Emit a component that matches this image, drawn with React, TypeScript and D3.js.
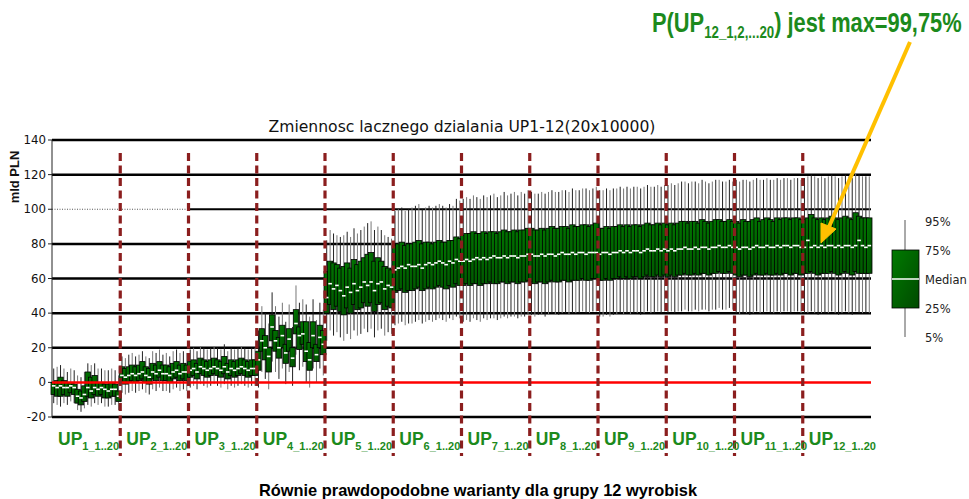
import React from "react";
import * as d3 from "d3";

const groupLabels = ["1", "2", "3", "4", "5", "6", "7", "8", "9", "10", "11", "12"];
const yTicks = [-20, 0, 20, 40, 60, 80, 100, 120, 140];
const legendLabels = ["95%", "75%", "Median", "25%", "5%"];

const p50: number[][] = [
  [-2, -3, -2, -3, -3, -2, -3, -8, -9, -7, -3, -5, -3, -4, -3, -4, -5, -4, -4, -8],
  [4, 3, 4, 5, 4, 5, 6, 4, 3, 6, 5, 7, 5, 5, 4, 6, 7, 5, 6, 6],
  [7, 8, 6, 9, 8, 7, 8, 9, 8, 7, 9, 6, 8, 7, 8, 9, 8, 7, 8, 8],
  [13, 24, 20, 15, 32, 24, 20, 27, 17, 25, 14, 34, 27, 28, 18, 13, 27, 16, 26, 22],
  [49, 57, 54, 56, 53, 50, 55, 52, 57, 53, 55, 58, 56, 58, 53, 57, 58, 54, 56, 55],
  [65, 66, 67, 66, 68, 67, 67, 68, 66, 68, 69, 68, 69, 70, 69, 68, 70, 69, 71, 70],
  [70, 71, 70, 71, 72, 71, 72, 71, 72, 73, 72, 72, 73, 72, 73, 73, 72, 73, 73, 74],
  [74, 73, 73, 74, 73, 74, 74, 73, 74, 75, 74, 74, 75, 74, 75, 75, 74, 75, 75, 75],
  [74, 75, 75, 74, 75, 75, 76, 75, 76, 75, 76, 76, 75, 76, 77, 76, 76, 77, 76, 77],
  [76, 77, 76, 77, 77, 78, 77, 77, 78, 77, 78, 78, 77, 78, 78, 79, 78, 78, 79, 78],
  [78, 77, 78, 78, 77, 78, 79, 78, 78, 79, 78, 78, 79, 78, 79, 79, 78, 79, 79, 78],
  [78, 82, 78, 79, 78, 79, 78, 79, 79, 78, 79, 78, 79, 79, 78, 79, 82, 79, 78, 79],
];
const p75: number[][] = [
  [0, 1, 3, 1, 0, 0, -1, -4, -5, -2, 6, 3, 4, 0, 0, -1, -1, 0, -1, -5],
  [9, 8, 9, 10, 9, 10, 12, 9, 8, 11, 10, 12, 10, 10, 9, 11, 12, 10, 11, 10],
  [12, 13, 11, 14, 13, 12, 13, 14, 13, 12, 15, 11, 13, 12, 13, 14, 13, 12, 13, 13],
  [18, 31, 27, 20, 39, 30, 26, 33, 22, 31, 20, 42, 32, 35, 35, 23, 35, 22, 33, 30],
  [64, 70, 69, 68, 66, 67, 69, 66, 71, 68, 70, 72, 74, 75, 70, 72, 70, 67, 66, 65],
  [79, 80, 81, 79, 80, 80, 81, 82, 80, 81, 81, 80, 81, 82, 81, 81, 82, 82, 84, 83],
  [85, 86, 86, 87, 86, 86, 87, 86, 87, 87, 86, 87, 88, 87, 87, 88, 87, 88, 88, 89],
  [89, 88, 88, 89, 88, 89, 90, 89, 89, 90, 90, 89, 91, 90, 90, 91, 91, 90, 91, 92],
  [89, 89, 90, 89, 90, 90, 91, 90, 91, 90, 91, 91, 90, 91, 92, 91, 91, 92, 91, 92],
  [91, 92, 91, 92, 93, 93, 92, 93, 93, 92, 94, 93, 92, 93, 94, 94, 93, 93, 94, 93],
  [93, 92, 94, 93, 93, 94, 95, 93, 94, 95, 94, 93, 95, 94, 95, 95, 94, 95, 95, 94],
  [94, 95, 97, 95, 94, 95, 94, 95, 96, 95, 94, 95, 96, 95, 94, 98, 96, 95, 95, 95],
];
const p25: number[][] = [
  [-7, -8, -8, -7, -8, -6, -7, -12, -13, -11, -8, -9, -7, -8, -7, -9, -9, -8, -8, -11],
  [0, -1, 0, 1, 0, 1, 2, 0, -1, 2, 1, 3, 1, 1, 0, 2, 3, 1, 2, 1],
  [3, 4, 2, 5, 4, 3, 4, 5, 4, 3, 5, 2, 4, 3, 4, 5, 4, 3, 4, 4],
  [7, 18, 13, 6, 24, 18, 14, 20, 11, 18, 9, 28, 19, 22, 12, 7, 20, 12, 20, 16],
  [40, 45, 42, 44, 41, 39, 43, 40, 45, 42, 43, 46, 44, 46, 41, 45, 46, 42, 44, 43],
  [52, 53, 54, 52, 53, 53, 54, 55, 53, 54, 55, 54, 55, 56, 55, 54, 56, 55, 57, 56],
  [56, 57, 56, 57, 57, 56, 57, 57, 58, 57, 57, 58, 58, 57, 58, 58, 57, 58, 58, 59],
  [58, 57, 58, 58, 57, 58, 59, 58, 58, 59, 59, 58, 59, 59, 59, 60, 59, 59, 60, 60],
  [59, 59, 60, 59, 60, 60, 61, 60, 61, 60, 61, 61, 60, 61, 62, 61, 61, 62, 61, 62],
  [61, 62, 61, 62, 62, 63, 62, 62, 63, 62, 63, 63, 62, 63, 63, 64, 63, 63, 64, 63],
  [62, 61, 62, 62, 61, 62, 63, 62, 62, 63, 62, 62, 63, 62, 63, 63, 62, 63, 63, 62],
  [63, 63, 64, 63, 62, 63, 63, 63, 64, 63, 62, 63, 64, 63, 62, 64, 63, 63, 63, 63],
];
const p95: number[][] = [
  [8, 9, 10, 8, 6, 8, 7, 4, 3, 6, 11, 10, 11, 8, 8, 7, 7, 8, 7, 4],
  [15, 14, 16, 17, 15, 16, 18, 15, 14, 18, 17, 19, 16, 17, 15, 18, 19, 17, 18, 17],
  [19, 20, 18, 21, 20, 19, 20, 21, 20, 19, 22, 18, 20, 19, 20, 21, 20, 19, 20, 20],
  [30, 44, 40, 34, 52, 44, 38, 46, 35, 45, 32, 56, 46, 48, 45, 38, 48, 36, 46, 42],
  [82, 88, 86, 85, 84, 85, 87, 84, 89, 86, 88, 90, 92, 93, 88, 90, 88, 85, 84, 83],
  [99, 100, 101, 99, 100, 101, 102, 103, 100, 101, 102, 101, 102, 103, 102, 101, 103, 102, 106, 105],
  [106, 107, 106, 108, 107, 106, 108, 107, 108, 109, 107, 108, 110, 108, 109, 110, 108, 110, 109, 111],
  [110, 109, 109, 110, 109, 110, 111, 110, 110, 111, 111, 110, 112, 111, 111, 112, 112, 111, 112, 113],
  [111, 111, 112, 111, 112, 112, 113, 112, 113, 112, 113, 113, 112, 113, 114, 113, 113, 114, 113, 114],
  [114, 115, 114, 115, 116, 116, 115, 116, 116, 115, 117, 116, 115, 116, 117, 117, 116, 116, 117, 116],
  [117, 116, 117, 117, 116, 117, 118, 117, 117, 118, 117, 117, 118, 117, 118, 118, 117, 118, 118, 117],
  [118, 119, 120, 119, 118, 119, 118, 119, 120, 119, 118, 119, 120, 119, 118, 121, 120, 119, 119, 119],
];
const p05: number[][] = [
  [-12, -13, -14, -12, -13, -11, -12, -16, -17, -15, -13, -14, -12, -13, -12, -14, -14, -13, -13, -16],
  [-6, -7, -6, -5, -6, -5, -4, -6, -7, -4, -5, -3, -5, -5, -6, -4, -3, -5, -4, -5],
  [-3, -2, -4, -1, -2, -3, -2, -1, -2, -3, -1, -4, -2, -3, -2, -1, -2, -3, -2, -2],
  [-3, 6, 2, -4, 12, 6, 2, 8, -1, 6, -2, 16, 7, 9, 0, -3, 8, 0, 8, 4],
  [24, 30, 27, 29, 26, 24, 28, 25, 30, 27, 28, 31, 29, 31, 26, 30, 31, 27, 29, 28],
  [33, 34, 35, 33, 34, 34, 35, 36, 34, 35, 36, 35, 36, 37, 36, 35, 37, 36, 38, 37],
  [35, 36, 35, 37, 36, 35, 37, 36, 37, 37, 36, 37, 38, 37, 38, 38, 37, 38, 38, 39],
  [39, 38, 39, 39, 38, 39, 40, 39, 39, 40, 40, 39, 40, 40, 40, 41, 40, 40, 41, 41],
  [38, 38, 39, 38, 39, 39, 40, 39, 40, 39, 40, 40, 39, 40, 41, 40, 40, 41, 40, 41],
  [40, 41, 40, 41, 41, 42, 41, 41, 42, 41, 42, 42, 41, 42, 42, 43, 42, 42, 43, 42],
  [40, 39, 40, 40, 39, 40, 41, 40, 40, 41, 40, 40, 41, 40, 41, 41, 40, 41, 41, 40],
  [40, 40, 41, 40, 39, 40, 40, 40, 41, 40, 39, 40, 41, 40, 39, 41, 40, 40, 40, 40],
];

const W = 969;
const H = 499;
const PL = 52;
const PR = 871;
const PT = 140;
const PB = 417;
const GREEN = "#1c8a1c";
const SEP = "#8b1e1e";

export default function App() {
  const boxes = groupLabels.flatMap((g, gi) =>
    p50[gi].map((m, k) => ({
      key: `${gi}-${k}`,
      idx: gi * 20 + k,
      lo: p05[gi][k],
      q1: p25[gi][k],
      med: m,
      q3: p75[gi][k],
      hi: p95[gi][k],
    }))
  );
  const x = d3.scaleBand<number>().domain(d3.range(boxes.length)).range([PL, PR]).padding(0);
  const gx = d3.scaleBand<string>().domain(groupLabels).range([PL, PR]).padding(0);
  const y = d3.scaleLinear().domain([-20, 140]).range([PB, PT]);
  const bw = 5.4;

  return (
    <svg width={W} height={H} style={{ position: "absolute", left: 0, top: 0, background: "#fff" }}>
      <defs>
        <linearGradient id="bx" x1="0" y1="0" x2="1" y2="1">
          <stop offset="0" stopColor="#007a00" />
          <stop offset="1" stopColor="#004a00" />
        </linearGradient>
      </defs>
      <text x={462} y={132} textAnchor="middle" fontFamily="DejaVu Sans, Verdana, sans-serif" fontSize={15.6} fill="#111">
        Zmiennosc lacznego dzialania UP1-12(20x10000)
      </text>
      {yTicks.map((t) =>
        t === 0 ? null : t === 100 ? (
          <g key={t}>
            <line x1={PL} x2={gx("3")!} y1={y(t)} y2={y(t)} stroke="#555" strokeWidth={1} strokeDasharray="1,1.5" />
            <line x1={gx("3")!} x2={PR} y1={y(t)} y2={y(t)} stroke="#000" strokeWidth={2} />
          </g>
        ) : (
          <line key={t} x1={PL} x2={PR} y1={y(t)} y2={y(t)} stroke="#000" strokeWidth={2.5} />
        )
      )}
      <line x1={PL} x2={PL} y1={PT} y2={PB} stroke="#222" strokeWidth={1} />
      {yTicks.map((t) => (
        <g key={"t" + t}>
          <line x1={PL - 4} x2={PL} y1={y(t)} y2={y(t)} stroke="#222" />
          <text x={PL - 6} y={y(t) + 4} textAnchor="end" fontFamily="DejaVu Sans, Verdana, sans-serif" fontSize={11.8} fill="#111">
            {t}
          </text>
        </g>
      ))}
      <text transform={`translate(19,177) rotate(-90)`} textAnchor="middle" fontFamily="Liberation Sans, Arial, sans-serif" fontWeight="bold" fontSize={13} fill="#111">
        mld PLN
      </text>
      {boxes.map((b) => {
        const cx = x(b.idx)! + x.bandwidth() / 2;
        return (
          <line key={"w" + b.key} x1={cx} x2={cx} y1={y(b.hi)} y2={y(b.lo)} stroke={b.idx % 2 ? "#777" : "#222"} strokeWidth={1} />
        );
      })}
      {boxes.map((b) => {
        const cx = x(b.idx)! + x.bandwidth() / 2;
        return (
          <rect key={"b" + b.key} x={cx - bw / 2} y={y(b.q3)} width={bw} height={y(b.q1) - y(b.q3)} fill="url(#bx)" stroke="#000" strokeWidth={0.8} />
        );
      })}
      {boxes.map((b) => {
        const cx = x(b.idx)! + x.bandwidth() / 2;
        return <line key={"m" + b.key} x1={cx - 1.8} x2={cx + 1.8} y1={y(b.med)} y2={y(b.med)} stroke="#fff" strokeWidth={1.6} />;
      })}
      <line x1={PL} x2={PR} y1={y(0)} y2={y(0)} stroke="#ff0000" strokeWidth={2.5} />
      {groupLabels.slice(1).map((g) => (
        <line key={"s" + g} x1={gx(g)!} x2={gx(g)!} y1={153} y2={456} stroke={SEP} strokeWidth={3.2} strokeDasharray="8,4.5" />
      ))}
      {groupLabels.map((g) => (
        <text key={"l" + g} x={gx(g)! + 6} y={445} fontFamily="Liberation Sans, Arial, sans-serif" fontWeight="bold" fill={GREEN}>
          <tspan fontSize={17.5}>UP</tspan>
          <tspan fontSize={11} dy={5}>{`${g}_1..20`}</tspan>
        </text>
      ))}
      <text x={478} y={496} textAnchor="middle" fontFamily="Liberation Sans, Arial, sans-serif" fontWeight="bold" fontSize={16.4} fill="#000">
        Równie prawdopodobne warianty dla grupy 12 wyrobisk
      </text>
      <g>
        <line x1={905} x2={905} y1={220} y2={337} stroke="#555" strokeWidth={1} />
        <rect x={892} y={250} width={27} height={58} fill="url(#bx)" stroke="#000" strokeWidth={0.8} />
        <line x1={892} x2={919} y1={279} y2={279} stroke="#fff" strokeWidth={1.5} />
        {legendLabels.map((l, i) => (
          <text key={l} x={925} y={226 + i * 29} fontFamily="DejaVu Sans, Verdana, sans-serif" fontSize={11.5} fill="#222">
            {l}
          </text>
        ))}
      </g>
      <g transform="translate(652,32) scale(0.78,1)">
        <text x={0} y={0} fontFamily="Liberation Sans, Arial, sans-serif" fontWeight="bold" fill={GREEN}>
          <tspan fontSize={28}>P(UP</tspan>
          <tspan fontSize={17} dy={6}>12_1,2,...20</tspan>
          <tspan fontSize={28} dy={-6}>) jest max=99,75%</tspan>
        </text>
      </g>
      <line x1={910} y1={42} x2={828} y2={229} stroke="#ffc000" strokeWidth={4} />
      <path d="M821,243 L821,223 L836,229 Z" fill="#ffc000" stroke="#ffc000" strokeWidth={1} strokeLinejoin="round" />
    </svg>
  );
}
